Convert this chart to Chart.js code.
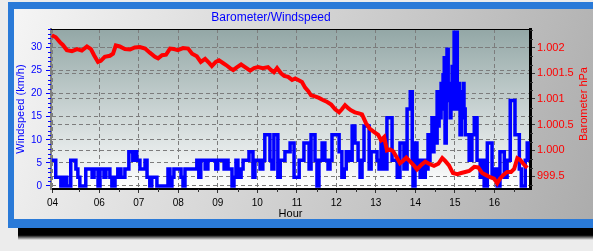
<!DOCTYPE html>
<html>
<head>
<meta charset="utf-8">
<script src="https://cdn.jsdelivr.net/npm/chart.js@4.4.1/dist/chart.umd.min.js"></script>
<style>
  html, body { margin: 0; padding: 0; background: #ececec; }
</style>
</head>
<body>
<canvas id="baroChart" width="593" height="251"></canvas>
<script>
// tick positions (hours) and axis ticks
const hourTicks = [4.82, 6, 7, 8, 9, 10, 11, 12, 13, 14, 15, 16];
const windTicks = [0, 5, 10, 15, 20, 25, 30];
const baroTicks = [999.5, 1000, 1000.5, 1001, 1001.5, 1002];

// barometer (hPa)
const baroTimes = [4.80, 4.90, 5.01, 5.08, 5.18, 5.31, 5.44, 5.56, 5.69, 5.79, 5.87, 5.97, 6.04, 6.14, 6.27, 6.35,
    6.42, 6.52, 6.65, 6.78, 6.90, 7.03, 7.16, 7.28, 7.41, 7.49, 7.59, 7.69, 7.79, 7.89, 7.99, 8.12, 8.25, 8.35,
    8.47, 8.57, 8.68, 8.78, 8.85, 8.95, 9.03, 9.13, 9.21, 9.31, 9.39, 9.49, 9.59, 9.69, 9.82, 9.92, 10.02, 10.14,
    10.27, 10.35, 10.42, 10.50, 10.60, 10.68, 10.78, 10.88, 10.96, 11.06, 11.13, 11.21, 11.29, 11.36, 11.46, 11.56,
    11.66, 11.77, 11.87, 11.97, 12.07, 12.14, 12.22, 12.30, 12.37, 12.47, 12.57, 12.65, 12.75, 12.85, 12.95, 13.06,
    13.13, 13.21, 13.28, 13.36, 13.44, 13.54, 13.61, 13.69, 13.77, 13.87, 13.97, 14.04, 14.15, 14.25, 14.37, 14.47,
    14.58, 14.68, 14.75, 14.85, 14.95, 15.06, 15.16, 15.26, 15.36, 15.49, 15.59, 15.69, 15.79, 15.89, 15.99, 16.07,
    16.14, 16.22, 16.32, 16.42, 16.50, 16.58, 16.65, 16.73, 16.83];
const baroValues = [1002.24, 1002.2, 1002.1, 1002.05, 1001.95, 1001.93, 1001.97, 1001.94, 1002.02, 1001.97, 1001.85,
    1001.72, 1001.74, 1001.82, 1001.84, 1001.88, 1002.04, 1002.02, 1001.97, 1001.96, 1002.0, 1002.01, 1001.98, 1001.9,
    1001.82, 1001.79, 1001.85, 1001.86, 1001.98, 1001.97, 1001.95, 1001.99, 1001.98, 1001.88, 1001.83, 1001.72, 1001.78,
    1001.7, 1001.64, 1001.72, 1001.75, 1001.7, 1001.66, 1001.6, 1001.56, 1001.62, 1001.67, 1001.62, 1001.55, 1001.6,
    1001.62, 1001.6, 1001.62, 1001.56, 1001.52, 1001.6, 1001.5, 1001.45, 1001.43, 1001.37, 1001.4, 1001.36, 1001.33,
    1001.22, 1001.15, 1001.07, 1001.05, 1001.02, 1000.98, 1000.94, 1000.89, 1000.8, 1000.74, 1000.8, 1000.88, 1000.82,
    1000.78, 1000.74, 1000.72, 1000.7, 1000.53, 1000.42, 1000.36, 1000.3, 1000.2, 1000.26, 1000.0, 1000.02, 999.98,
    999.85, 999.75, 999.8, 999.86, 999.78, 999.7, 999.63, 999.72, 999.78, 999.73, 999.7, 999.74, 999.85, 999.8, 999.71,
    999.56, 999.54, 999.56, 999.58, 999.6, 999.68, 999.67, 999.56, 999.52, 999.48, 999.45, 999.36, 999.45, 999.52,
    999.58, 999.58, 999.64, 999.85, 999.82, 999.74, 999.66];

// windspeed (km/h)
const windTimes = [4.80, 4.85, 4.90, 4.98, 5.03, 5.08, 5.11, 5.16, 5.18, 5.26, 5.28, 5.36, 5.41, 5.46, 5.51, 5.61,
    5.66, 5.77, 5.82, 5.87, 5.92, 5.97, 6.02, 6.12, 6.17, 6.22, 6.27, 6.32, 6.40, 6.47, 6.55, 6.60, 6.65, 6.70,
    6.75, 6.80, 6.85, 6.90, 6.95, 7.03, 7.08, 7.16, 7.21, 7.28, 7.33, 7.41, 7.46, 7.69, 7.74, 7.79, 7.84, 7.89,
    7.99, 8.07, 8.12, 8.17, 8.42, 8.47, 8.52, 8.57, 8.63, 8.68, 8.75, 8.90, 8.95, 9.00, 9.11, 9.16, 9.21, 9.26,
    9.31, 9.36, 9.41, 9.46, 9.51, 9.59, 9.64, 9.74, 9.79, 9.87, 9.89, 9.94, 10.02, 10.07, 10.14, 10.19, 10.27,
    10.32, 10.37, 10.42, 10.50, 10.52, 10.58, 10.65, 10.70, 10.78, 10.83, 10.88, 10.93, 10.98, 11.06, 11.13, 11.18,
    11.26, 11.31, 11.36, 11.44, 11.46, 11.51, 11.56, 11.64, 11.71, 11.79, 11.84, 11.89, 11.97, 12.07, 12.14, 12.20,
    12.25, 12.32, 12.40, 12.45, 12.47, 12.55, 12.60, 12.65, 12.70, 12.75, 12.83, 12.88, 12.95, 13.03, 13.08, 13.13,
    13.21, 13.28, 13.36, 13.41, 13.46, 13.54, 13.61, 13.71, 13.79, 13.84, 13.87, 13.92, 13.94, 13.99, 14.04, 14.09,
    14.12, 14.17, 14.20, 14.25, 14.27, 14.32, 14.35, 14.37, 14.42, 14.45, 14.47, 14.50, 14.55, 14.57, 14.60, 14.63,
    14.65, 14.68, 14.70, 14.73, 14.75, 14.78, 14.80, 14.83, 14.85, 14.88, 14.90, 14.93, 14.95, 14.98, 15.03, 15.06,
    15.08, 15.11, 15.13, 15.16, 15.18, 15.21, 15.23, 15.26, 15.28, 15.36, 15.43, 15.49, 15.56, 15.64, 15.69, 15.74,
    15.82, 15.87, 15.94, 16.02, 16.07, 16.14, 16.25, 16.32, 16.40, 16.47, 16.52, 16.58, 16.63, 16.68, 16.73, 16.78,
    16.83, 16.85];
const windValues = [5.6, 5.6, 1.9, 1.9, 0, 0, 1.9, 1.9, 0, 0, 5.6, 5.6, 3.7, 1.9, 0, 0,
    3.7, 3.7, 1.9, 3.7, 3.7, 0, 3.7, 1.9, 3.7, 3.7, 1.9, 0, 1.9, 3.7, 1.9, 1.9, 3.7, 3.7,
    7.4, 7.4, 5.6, 7.4, 5.6, 3.7, 3.7, 5.6, 1.9, 0, 1.9, 1.9, 0, 0, 3.7, 0, 1.9, 3.7,
    3.7, 1.9, 0, 3.7, 3.7, 5.6, 1.9, 5.6, 5.6, 3.7, 5.6, 5.6, 3.7, 5.6, 5.6, 3.7, 5.6, 3.7,
    3.7, 0, 1.9, 5.6, 1.9, 3.7, 5.6, 5.6, 7.4, 7.4, 1.9, 5.6, 5.6, 3.7, 5.6, 11.1, 11.1,
    5.6, 3.7, 11.1, 11.1, 1.9, 5.6, 5.6, 7.4, 7.4, 9.3, 9.3, 1.9, 1.9, 5.6, 5.6, 9.3,
    9.3, 3.7, 11.1, 11.1, 5.6, 0, 5.6, 9.3, 5.6, 3.7, 5.6, 11.1, 11.1, 7.4, 1.9, 3.7,
    7.4, 5.6, 13.0, 13.0, 9.3, 5.6, 1.9, 5.6, 13.0, 13.0, 3.7, 7.4, 7.4, 5.6, 3.7, 9.3,
    3.7, 14.8, 14.8, 5.6, 5.6, 1.9, 9.3, 3.7, 16.7, 16.7, 20.4, 5.6, 0, 9.3, 3.7, 5.6,
    1.9, 5.6, 1.9, 5.6, 3.7, 11.1, 5.6, 11.1, 14.8, 7.4, 14.8, 9.3, 20.4, 13.0, 20.4, 14.8,
    22.2, 16.7, 24.1, 27.8, 9.3, 22.2, 29.6, 18.5, 22.2, 14.8, 22.2, 25.9, 16.7, 33.3, 33.3, 16.7,
    22.2, 18.5, 11.1, 20.4, 14.8, 22.2, 16.7, 11.1, 11.1, 5.6, 11.1, 14.8, 5.6, 1.9, 5.6, 0,
    9.3, 9.3, 1.9, 3.7, 0, 7.4, 1.9, 5.6, 18.5, 18.5, 11.1, 11.1, 3.7, 0, 0, 5.6,
    9.3, 5.6];

const FONT = "'Liberation Sans', Arial, sans-serif";
Chart.defaults.font.family = FONT;

function fmtBaro(v) {
    const whole = Math.floor(v + 1e-9);
    const frac = Math.round((v - whole) * 10);
    let s = String(whole);
    if (whole >= 1000) s = Math.floor(whole / 1000) + '.' + String(whole % 1000).padStart(3, '0');
    return frac ? s + '.' + frac : s;
}

// frame, panel and plot background
const backdrop = {
    id: 'backdrop',
    beforeDraw(chart) {
        const { ctx, chartArea: a } = chart;
        ctx.save();
        ctx.fillStyle = '#ececec';
        ctx.fillRect(0, 0, chart.width, chart.height);

        const sh = ctx.createLinearGradient(0, 228, 0, 240);
        sh.addColorStop(0, '#000');
        sh.addColorStop(0.6, '#000');
        sh.addColorStop(1, 'rgba(0,0,0,0)');
        ctx.fillStyle = sh;
        ctx.fillRect(18, 228, chart.width - 18, 12);

        ctx.fillStyle = '#2a7ad8';
        ctx.fillRect(8, 2, chart.width - 8, 226);

        const pg = ctx.createLinearGradient(14, 9, chart.width, 219);
        pg.addColorStop(0, '#f5f5f5');
        pg.addColorStop(1, '#acacac');
        ctx.fillStyle = pg;
        ctx.fillRect(14, 9, chart.width - 14, 210);

        const ag = ctx.createLinearGradient(0, a.top, 0, a.bottom);
        ag.addColorStop(0, '#93a7a6');
        ag.addColorStop(1, '#ffffff');
        ctx.fillStyle = ag;
        ctx.fillRect(a.left, a.top, a.right - a.left, a.bottom - a.top);

        ctx.fillStyle = '#0000ff';
        ctx.font = '12px ' + FONT;
        ctx.textAlign = 'center';
        ctx.textBaseline = 'middle';
        ctx.fillText('Barometer/Windspeed', 271, 18);
        ctx.restore();
    }
};

// minor ticks, top frame line, right axis title (reads bottom to top)
const minorTicks = {
    id: 'minorTicks',
    afterDraw(chart) {
        const { ctx, chartArea: a, scales } = chart;
        const tick = (x1, y1, x2, y2) => { ctx.beginPath(); ctx.moveTo(x1, y1); ctx.lineTo(x2, y2); ctx.stroke(); };
        ctx.save();
        ctx.lineWidth = 1;

        ctx.strokeStyle = '#0000ff';
        for (let v = 1; v <= 34; v++) {
            if (v % 5 === 0) continue;
            const y = Math.round(scales.yWind.getPixelForValue(v)) + 0.5;
            tick(a.left - 3, y, a.left, y);
        }

        ctx.strokeStyle = '#333';
        for (let i = 0; i < 20; i++) {
            const v = 999.5 + (i - 1) / 6;
            if ((i - 1) % 3 === 0 || v > 1002.36) continue;
            const y = Math.round(scales.yBaro.getPixelForValue(v)) + 0.5;
            tick(a.right, y, a.right + 3, y);
        }

        for (let h = 5.5; h < 17; h += 1) {
            const x = Math.round(scales.x.getPixelForValue(h)) + 0.5;
            tick(x, a.bottom, x, a.bottom + 3);
        }

        ctx.strokeStyle = '#000';
        tick(a.left, a.top + 0.5, a.right, a.top + 0.5);

        ctx.translate(584, 104);
        ctx.rotate(-Math.PI / 2);
        ctx.fillStyle = '#ff0000';
        ctx.font = '11px ' + FONT;
        ctx.textAlign = 'center';
        ctx.textBaseline = 'middle';
        ctx.fillText('Barometer hPa', 0, 0);
        ctx.restore();
    }
};

const gridCol = '#7c7c7c';

new Chart(document.getElementById('baroChart'), {
    type: 'line',
    data: {
        datasets: [
            {
                label: 'Barometer hPa',
                data: baroTimes.map((t, i) => ({ x: t, y: baroValues[i] })),
                yAxisID: 'yBaro',
                borderColor: '#ff0000',
                borderWidth: 4,
                pointRadius: 0,
                tension: 0,
                order: 0
            },
            {
                label: 'Windspeed (km/h)',
                data: windTimes.map((t, i) => ({ x: t, y: windValues[i] })),
                yAxisID: 'yWind',
                borderColor: '#0000ff',
                borderWidth: 3.5,
                pointRadius: 0,
                stepped: true,
                order: 1
            }
        ]
    },
    options: {
        responsive: false,
        animation: false,
        devicePixelRatio: 1,
        layout: { padding: { top: 29, left: 0, right: 0, bottom: 0 } },
        plugins: { legend: { display: false }, tooltip: { enabled: false } },
        scales: {
            x: {
                type: 'linear',
                min: 4.78,
                max: 16.9,
                afterBuildTicks: s => { s.ticks = hourTicks.map(v => ({ value: v })); },
                afterFit: s => { s.height = 62; },
                ticks: {
                    color: '#000',
                    font: { size: 10 },
                    padding: 4,
                    maxRotation: 0,
                    autoSkip: false,
                    callback: v => String(Math.floor(v)).padStart(2, '0')
                },
                grid: { color: gridCol, tickColor: '#333', tickLength: 4 },
                border: { color: '#000', width: 2, dash: [4, 3] },
                title: { display: true, text: 'Hour', color: '#000', font: { size: 11 }, padding: { top: 0, bottom: 30 } }
            },
            yWind: {
                position: 'left',
                min: -0.65,
                max: 34,
                afterBuildTicks: s => { s.ticks = windTicks.map(v => ({ value: v })); },
                afterFit: s => { s.width = 51; },
                ticks: { color: '#0000ff', font: { size: 10 }, padding: 4 },
                grid: { color: gridCol, tickColor: '#0000ff', tickLength: 5 },
                border: { color: '#808080', width: 2, dash: [4, 3] },
                title: { display: true, text: 'Windspeed (km/h)', color: '#0000ff', font: { size: 11 }, padding: { top: 14, bottom: 0 } }
            },
            yBaro: {
                position: 'right',
                min: 999.25,
                max: 1002.36,
                afterBuildTicks: s => { s.ticks = baroTicks.map(v => ({ value: v })); },
                afterFit: s => { s.width = 63; },
                ticks: { color: '#ff0000', font: { size: 11 }, padding: 2, callback: v => fmtBaro(v) },
                grid: { color: gridCol, tickColor: '#333', tickLength: 5 },
                border: { color: '#000', width: 3, dash: [4, 3] },
                title: { display: false, text: 'Barometer hPa' }
            }
        }
    },
    plugins: [backdrop, minorTicks]
});
</script>
</body>
</html>
